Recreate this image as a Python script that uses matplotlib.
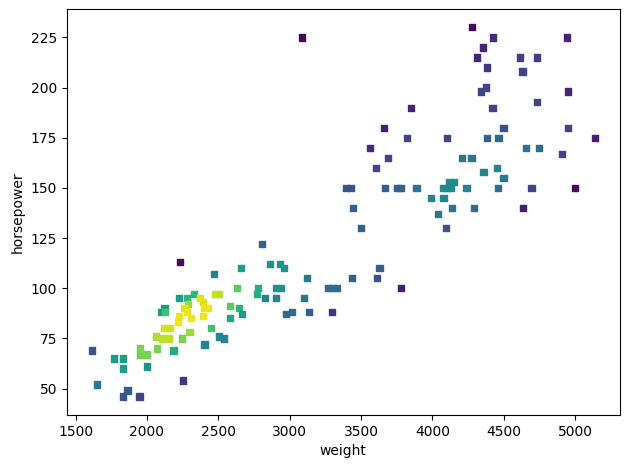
import matplotlib
matplotlib.use('Agg')
import matplotlib.pyplot as plt

# car weight vs horsepower, colour = local point density (0..1)
weight = [
    2233, 2471, 2657, 2632, 2781, 2769, 2331, 2226, 2279, 2289,
    2373, 2391, 2480, 2508, 2123, 2097, 2128, 2263, 2279, 2403,
    2426, 2223, 2307, 2391, 2216, 2580, 2646, 2669, 2585, 2121,
    2158, 2298, 2447, 2065, 2105, 2151, 2247, 2508, 2538, 2403,
    1953, 2072, 2186, 1950, 1997, 1615, 1771, 1834, 1834, 2002,
    2251, 1650, 1864, 1834, 1948,
    2805, 2865, 2933, 2961, 3122, 3437, 3612, 3630, 2905, 2942,
    2830, 2905, 3101, 3270, 3300, 3330, 2977, 3019, 3138, 3299,
    3780, 3085,
    4277, 4354, 4312, 4382, 4375, 4340, 3848, 3663, 3822, 4102,
    4382, 3563, 3691, 3607, 4207, 4274, 4358, 3393, 3432, 3670,
    3756, 3777, 3889, 4075, 4105, 4130, 4120, 4150, 4239, 3988,
    4078, 4041, 4139, 4293, 3446, 3502, 4097,
    4424, 4946, 4613, 4734, 4631, 4951, 4732, 4422, 4498, 4953,
    4463, 5138, 4655, 4746, 4907, 4454, 4498, 4461, 4695, 4998,
    4636,
]
horsepower = [
    113, 107, 110, 100, 100, 97, 97, 95, 95, 92,
    95, 93, 97, 97, 90, 88, 88, 90, 88, 90,
    90, 86, 85, 86, 83, 91, 90, 87, 85, 80,
    80, 78, 80, 76, 75, 75, 75, 76, 75, 72,
    70, 70, 69, 67, 67, 69, 65, 65, 60, 61,
    54, 52, 49, 46, 46,
    122, 112, 112, 110, 105, 105, 105, 110, 100, 100,
    95, 95, 95, 100, 100, 100, 87, 88, 88, 88,
    100, 225,
    230, 220, 215, 210, 200, 198, 190, 180, 175, 175,
    175, 170, 165, 160, 165, 165, 158, 150, 150, 150,
    150, 150, 150, 150, 150, 150, 153, 153, 150, 145,
    145, 137, 140, 140, 140, 130, 130,
    225, 225, 215, 215, 208, 198, 193, 190, 180, 180,
    175, 175, 170, 170, 167, 160, 155, 150, 150, 150,
    140,
]
density = [
    0.03, 0.45, 0.55, 0.75, 0.62, 0.62, 0.65, 0.55, 0.65, 0.85,
    0.95, 0.95, 0.9, 0.9, 0.55, 0.55, 0.7, 0.95, 0.97, 0.97,
    0.97, 0.97, 0.97, 0.97, 0.97, 0.75, 0.65, 0.55, 0.6, 0.93,
    0.93, 0.85, 0.7, 0.88, 0.9, 0.9, 0.8, 0.45, 0.45, 0.45,
    0.8, 0.8, 0.62, 0.8, 0.8, 0.25, 0.55, 0.55, 0.55, 0.5,
    0.15, 0.4, 0.3, 0.25, 0.2,
    0.3, 0.5, 0.5, 0.5, 0.4, 0.3, 0.25, 0.3, 0.5, 0.5,
    0.45, 0.45, 0.4, 0.35, 0.35, 0.35, 0.35, 0.35, 0.3, 0.15,
    0.08, 0.02,
    0.02, 0.1, 0.1, 0.15, 0.2, 0.2, 0.1, 0.08, 0.2, 0.2,
    0.3, 0.12, 0.2, 0.2, 0.38, 0.38, 0.45, 0.25, 0.25, 0.3,
    0.3, 0.3, 0.38, 0.48, 0.48, 0.48, 0.48, 0.48, 0.45, 0.45,
    0.45, 0.4, 0.38, 0.35, 0.3, 0.3, 0.25,
    0.12, 0.1, 0.18, 0.18, 0.2, 0.1, 0.2, 0.2, 0.25, 0.2,
    0.33, 0.08, 0.38, 0.35, 0.2, 0.45, 0.4, 0.35, 0.2, 0.03,
    0.08,
]

fig, ax = plt.subplots(figsize=(6.3, 4.69), dpi=100)
ax.scatter(weight, horsepower, c=density, cmap='viridis', vmin=0, vmax=1,
           marker='s', s=20)
ax.set_xlabel('weight')
ax.set_ylabel('horsepower')
fig.subplots_adjust(left=0.106, right=0.984, top=0.981, bottom=0.115)
fig.savefig('out.png')
